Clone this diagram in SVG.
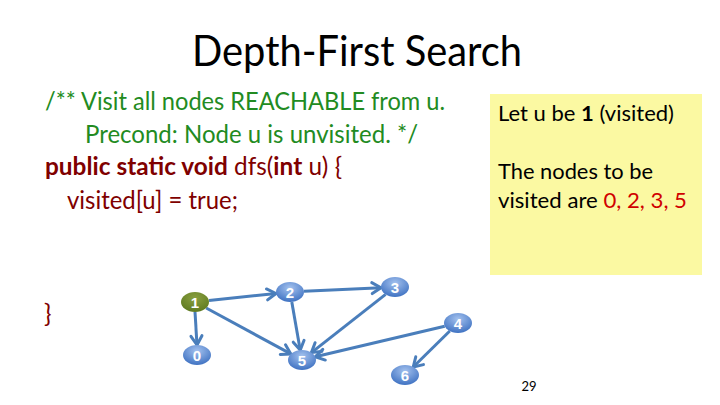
<svg xmlns="http://www.w3.org/2000/svg" width="720" height="405" viewBox="0 0 720 405">
<style>
.t{font-family:Lato,"Liberation Sans",sans-serif}
.cm{fill:#228B22;font-size:25px}
.cd{fill:#7F0000;font-size:25px}
.b{font-weight:bold}
.bx{fill:#000;font-size:21px}
.nl{fill:#fff;font-size:15px;font-weight:bold;text-anchor:middle;font-family:"Liberation Sans",sans-serif}
.e{stroke:#4A7EBB;stroke-width:3;fill:none;marker-end:url(#ah)}
</style>
<defs>
<radialGradient id="bg" cx="0.5" cy="0.3" r="0.7">
<stop offset="0" stop-color="#A3C1EE"/>
<stop offset="1" stop-color="#3F72C2"/>
</radialGradient>
<radialGradient id="gg" cx="0.5" cy="0.3" r="0.7">
<stop offset="0" stop-color="#8AA040"/>
<stop offset="1" stop-color="#5E7A20"/>
</radialGradient>
<marker id="ah" markerUnits="userSpaceOnUse" markerWidth="16" markerHeight="16" refX="11" refY="7" orient="auto" overflow="visible">
<path d="M2,1.5 L11,7 L2,12.5" fill="none" stroke="#4A7EBB" stroke-width="3" stroke-linecap="round" stroke-linejoin="round"/>
</marker>
</defs>
<rect width="720" height="405" fill="#fff"/>
<text class="t" x="357" y="66" font-size="43" text-anchor="middle" textLength="330" lengthAdjust="spacingAndGlyphs">Depth-First Search</text>
<g id="code">
<text class="t cm" x="45" y="110" textLength="400" lengthAdjust="spacingAndGlyphs">/** Visit all nodes REACHABLE from u.</text>
<text class="t cm" x="85" y="143" textLength="333" lengthAdjust="spacingAndGlyphs">Precond: Node u is unvisited. */</text>
<text class="t cd" x="45" y="175" textLength="297" lengthAdjust="spacingAndGlyphs"><tspan class="b">public static void</tspan> dfs(<tspan class="b">int</tspan> u) {</text>
<text class="t cd" x="67" y="209" textLength="171" lengthAdjust="spacingAndGlyphs">visited[u] = true;</text>
<text class="t cd" x="44" y="322">}</text>
</g>
<g id="note">
<rect x="490" y="94" width="212" height="181" fill="#FBF9A2"/>
<text class="t bx" x="498" y="121" textLength="176" lengthAdjust="spacingAndGlyphs">Let u be <tspan class="b">1</tspan> (visited)</text>
<text class="t bx" x="498" y="179" textLength="155" lengthAdjust="spacingAndGlyphs">The nodes to be</text>
<text class="t bx" x="498" y="208" textLength="189" lengthAdjust="spacingAndGlyphs">visited are <tspan fill="#D00000">0, 2, 3, 5</tspan></text>
</g>
<g id="connectors">
<line class="e" x1="209" y1="300.5" x2="276" y2="293.5"/>
<line class="e" x1="304" y1="291.3" x2="381" y2="287.7"/>
<line class="e" x1="195" y1="312" x2="197" y2="345"/>
<line class="e" x1="206.2" y1="308" x2="290.8" y2="353.9"/>
<line class="e" x1="291.8" y1="301.9" x2="300.2" y2="350.1"/>
<line class="e" x1="385.6" y1="294.4" x2="311.4" y2="352.6"/>
<line class="e" x1="444.7" y1="326.2" x2="315.3" y2="356.8"/>
<line class="e" x1="449.8" y1="331" x2="413.2" y2="367"/>
</g>
<g id="n1"><ellipse cx="195" cy="302" rx="14" ry="10" fill="url(#gg)"/><text class="nl" x="195" y="307.5">1</text></g>
<g id="n2"><ellipse cx="290" cy="292" rx="14" ry="10" fill="url(#bg)"/><text class="nl" x="290" y="297.5">2</text></g>
<g id="n3"><ellipse cx="395" cy="287" rx="14" ry="10" fill="url(#bg)"/><text class="nl" x="395" y="292.5">3</text></g>
<g id="n4"><ellipse cx="458" cy="323" rx="14" ry="10" fill="url(#bg)"/><text class="nl" x="458" y="328.5">4</text></g>
<g id="n0"><ellipse cx="197" cy="355" rx="14" ry="10" fill="url(#bg)"/><text class="nl" x="197" y="360.5">0</text></g>
<g id="n5"><ellipse cx="302" cy="360" rx="14" ry="10" fill="url(#bg)"/><text class="nl" x="302" y="365.5">5</text></g>
<g id="n6"><ellipse cx="405" cy="375" rx="14" ry="10" fill="url(#bg)"/><text class="nl" x="405" y="380.5">6</text></g>
<text class="t" x="529" y="391" font-size="13" text-anchor="middle">29</text>
</svg>
